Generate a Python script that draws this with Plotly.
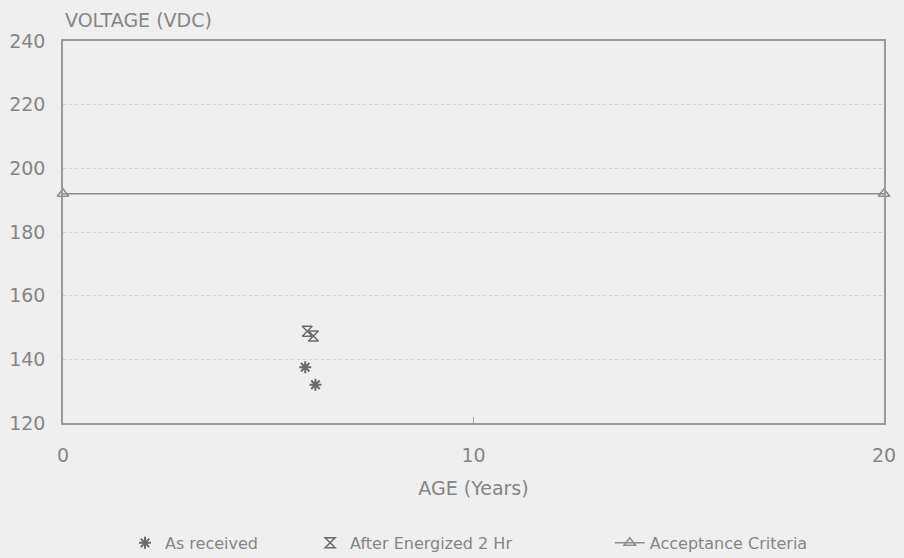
import plotly.graph_objects as go

# Measured voltages vs. age
as_received_age = [5.9, 6.15]
as_received_vdc = [137.5, 132.0]

energized_age = [5.95, 6.1]
energized_vdc = [148.8, 147.3]

criteria_age = [0, 20]
criteria_vdc = [192, 192]

x_ticks = [0, 10, 20]
y_ticks = [120, 140, 160, 180, 200, 220, 240]

TEXT = "#858585"
LINE = "#9a9a9a"
MARK = "#6a6a6a"
FONT = "DejaVu Sans"

fig = go.Figure()

fig.add_trace(go.Scatter(
    x=as_received_age, y=as_received_vdc, mode="markers", name="As received",
    marker=dict(symbol="asterisk-open", size=10, color=MARK,
                line=dict(color=MARK, width=2)),
    legend="legend",
))
fig.add_trace(go.Scatter(
    x=energized_age, y=energized_vdc, mode="markers", name="After Energized 2 Hr",
    marker=dict(symbol="hourglass-open", size=10, color=MARK,
                line=dict(color=MARK, width=1.5)),
    legend="legend2",
))
fig.add_trace(go.Scatter(
    x=criteria_age, y=criteria_vdc, mode="lines+markers", name="Acceptance Criteria",
    line=dict(color="#8c8c8c", width=1.5),
    marker=dict(symbol="triangle-up-open", size=10, color="#8c8c8c",
                line=dict(color="#8c8c8c", width=1.5)),
    cliponaxis=False,
    legend="legend3",
))

# the legend row sits at the very bottom of the page, one entry per legend
legend_common = dict(yref="container", xref="paper", y=0.027, yanchor="middle",
                     xanchor="left", font=dict(size=16, color=TEXT),
                     bgcolor="rgba(0,0,0,0)")

fig.update_layout(
    width=904, height=558,
    margin=dict(l=63, r=20, t=41, b=135),
    paper_bgcolor="#efefef", plot_bgcolor="#efefef",
    font=dict(family=FONT, size=19, color=TEXT),
    showlegend=True,
    legend=dict(x=0.0755, **legend_common),
    legend2=dict(x=0.301, **legend_common),
    legend3=dict(x=0.666, **legend_common),
    annotations=[dict(text="VOLTAGE (VDC)", xref="paper", yref="paper", x=0, y=1,
                      xanchor="left", yanchor="bottom", yshift=8, showarrow=False,
                      font=dict(size=19, color=TEXT))],
)

fig.update_xaxes(
    range=[0, 20], tickvals=x_ticks, ticktext=[str(v) for v in x_ticks],
    showgrid=False, zeroline=False, automargin=False,
    showline=True, linecolor=LINE, linewidth=1.5, mirror=True,
    ticks="inside", ticklen=6, tickcolor=LINE, ticklabelstandoff=14,
    title=dict(text="AGE (Years)", font=dict(size=19, color=TEXT), standoff=17),
)
fig.update_yaxes(
    range=[120, 240], tickvals=y_ticks, ticktext=[str(v) for v in y_ticks],
    showgrid=True, gridcolor="#d2d2d2", griddash="dot", gridwidth=1,
    zeroline=False, automargin=False,
    showline=True, linecolor=LINE, linewidth=1.5, mirror=True,
    ticks="", ticklabelstandoff=12,
)

fig.write_html("out.html")
